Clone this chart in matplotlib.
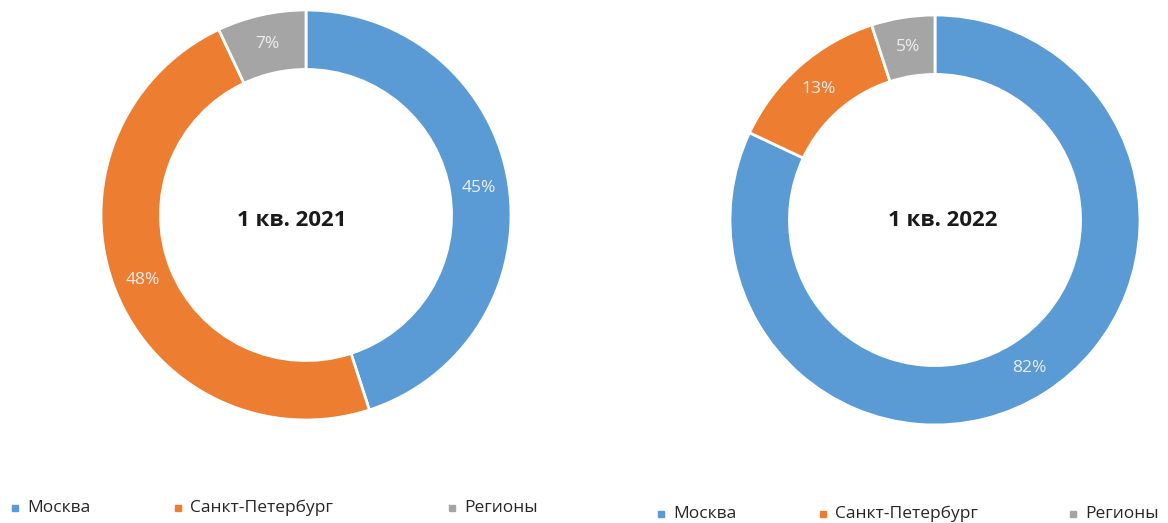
import matplotlib.pyplot as plt
from matplotlib.lines import Line2D

# data
categories = ["Москва", "Санкт-Петербург", "Регионы"]
values_2021 = [45, 48, 7]
values_2022 = [82, 13, 5]
titles = ["1 кв. 2021", "1 кв. 2022"]
colors = ["#5B9BD5", "#ED7D31", "#A5A5A5"]

plt.rcParams['font.family'] = ['Open Sans', 'Noto Sans', 'DejaVu Sans']

W, H = 1168, 523
fig = plt.figure(figsize=(W / 100, H / 100), dpi=100)


def donut(rect, values, title, title_xy):
    ax = fig.add_axes(rect)
    wedges, texts, autotexts = ax.pie(
        values, colors=colors, startangle=90, counterclock=False,
        autopct="%d%%", pctdistance=0.855,
        wedgeprops=dict(width=0.29, edgecolor="white", linewidth=2),
        textprops=dict(color="#EDEDED", fontsize=12.5))
    ax.text(title_xy[0], title_xy[1], title, ha="center", va="center",
            fontsize=16, fontweight="bold", color="#1a1a1a")
    ax.set_xlim(-1, 1)
    ax.set_ylim(-1, 1)
    ax.set_aspect("equal")
    ax.axis("off")
    return ax


# pixel boxes (x0, y_top, size) for each donut
def rect_from_px(x0, ytop, size):
    return [x0 / W, (H - ytop - size) / H, size / W, size / H]


donut(rect_from_px(101, 10, 410), values_2021, titles[0], (-0.07, -0.025))
donut(rect_from_px(730, 15, 410), values_2022, titles[1], (0.04, 0.0))


def legend_row(xs, y):
    for x, lab, col in zip(xs, categories, colors):
        fig.add_artist(Line2D([x / W], [1 - y / H], marker="s", markersize=4,
                              color=col, linestyle="none",
                              transform=fig.transFigure))
        fig.text((x + 12) / W, 1 - y / H, lab, ha="left", va="center",
                 fontsize=12.5, color="#262626")


legend_row([15, 178, 452], 508)
legend_row([661, 823, 1073], 514)

fig.savefig("out.png", dpi=100)
